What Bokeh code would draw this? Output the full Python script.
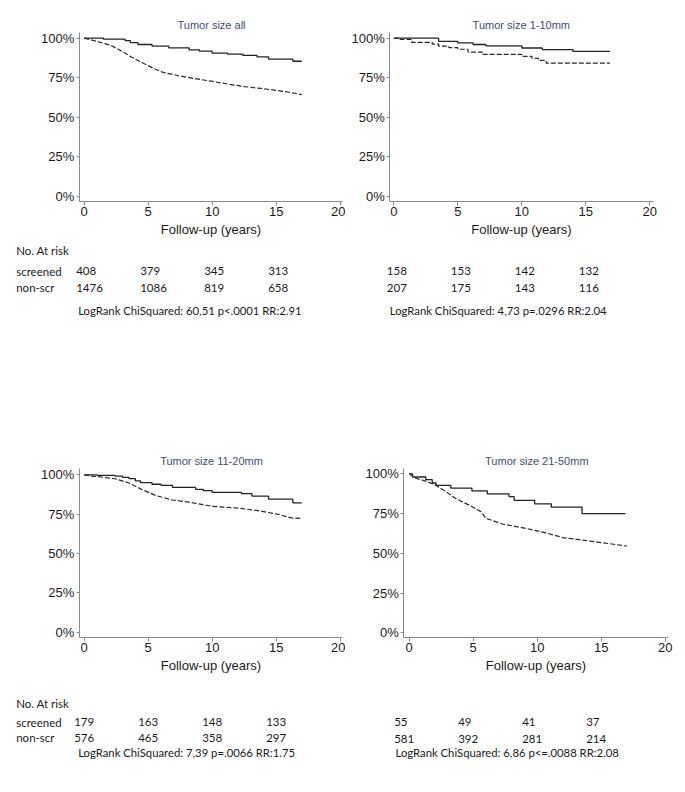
from bokeh.plotting import figure
from bokeh.layouts import column, row
from bokeh.models import Range1d, FixedTicker, PrintfTickFormatter, LinearAxis, Label
from bokeh.embed import file_html
from bokeh.resources import INLINE

# ---------------- data ----------------
titles = ["Tumor size all", "Tumor size 1-10mm", "Tumor size 11-20mm", "Tumor size 21-50mm"]
x_ticks = [0, 5, 10, 15, 20]
y_ticks = [0, 25, 50, 75, 100]
risk_years = [0, 5, 10, 15]
row_names = ["screened", "non-scr"]
risk_header = "No. At risk"
x_label = "Follow-up (years)"

# Tumor size all
all_scr_t = [0, 1.5, 3.2, 3.6, 4.2, 5.3, 6.6, 8.2, 9.0, 10.0, 11.2, 12.4, 13.5, 14.4, 16.3, 17.0]
all_scr_s = [100, 99.4, 98.5, 97.2, 96.0, 95.0, 93.9, 92.6, 91.8, 90.5, 89.9, 89.1, 88.2, 86.8, 85.4, 85.4]
all_non_t = [0, 1.0, 2.1, 3.0, 3.7, 4.7, 5.4, 6.1, 7.3, 8.5, 9.9, 11.2, 12.5, 13.8, 15.1, 16.0, 17.0]
all_non_s = [100, 98.0, 95.4, 91.5, 88.0, 83.8, 81.0, 78.5, 76.4, 74.6, 72.8, 71.0, 69.4, 68.2, 66.9, 65.8, 64.3]
all_risk_scr = [408, 379, 345, 313]
all_risk_non = [1476, 1086, 819, 658]
all_stats = "LogRank ChiSquared: 60,51  p<.0001  RR:2.91"

# Tumor size 1-10mm
s1_scr_t = [0, 3.5, 5.0, 6.2, 7.2, 10.0, 11.6, 14.0, 16.9]
s1_scr_s = [100, 98.0, 97.0, 96.0, 95.2, 93.8, 92.8, 91.6, 91.6]
s1_non_t = [0, 0.5, 1.4, 3.0, 3.5, 4.3, 5.0, 5.8, 6.9, 10.0, 10.8, 11.3, 11.9, 16.9]
s1_non_s = [100, 99.2, 97.4, 96.3, 95.0, 94.0, 93.0, 91.2, 89.8, 88.5, 87.2, 86.0, 84.2, 84.2]
s1_risk_scr = [158, 153, 142, 132]
s1_risk_non = [207, 175, 143, 116]
s1_stats = "LogRank ChiSquared: 4,73  p=.0296  RR:2.04"

# Tumor size 11-20mm
s2_scr_t = [0, 1.0, 2.4, 3.0, 3.5, 4.0, 4.4, 5.3, 6.0, 6.9, 8.7, 9.3, 10.0, 12.3, 13.1, 14.4, 16.3, 17.0]
s2_scr_s = [100, 99.6, 99.2, 98.4, 97.6, 96.2, 95.0, 94.0, 93.3, 92.0, 90.8, 90.0, 88.8, 88.0, 86.5, 84.5, 82.2, 82.2]
s2_non_t = [0, 0.5, 1.1, 2.4, 3.5, 4.5, 5.6, 6.9, 8.2, 9.3, 10.0, 12.1, 13.6, 15.2, 16.2, 17.0]
s2_non_s = [100, 99.2, 98.8, 97.5, 94.8, 90.7, 86.8, 84.0, 82.6, 81.0, 80.0, 78.8, 77.2, 74.8, 72.6, 72.2]
s2_risk_scr = [179, 163, 148, 133]
s2_risk_non = [576, 465, 358, 297]
s2_stats = "LogRank ChiSquared: 7,39  p=.0066  RR:1.75"

# Tumor size 21-50mm
s3_scr_t = [0, 0.26, 1.3, 1.8, 2.1, 3.25, 4.9, 6.1, 7.8, 8.2, 9.8, 11.1, 13.5, 16.9]
s3_scr_s = [100, 98.0, 96.3, 94.2, 92.7, 91.0, 89.2, 87.4, 85.6, 83.3, 81.1, 79.0, 75.0, 75.0]
s3_non_t = [0, 0.5, 1.3, 2.1, 2.9, 3.6, 4.7, 5.6, 6.0, 7.3, 9.1, 10.7, 12.0, 14.1, 15.6, 17.0]
s3_non_s = [100, 97.2, 95.4, 92.7, 88.6, 84.6, 80.2, 76.2, 72.0, 68.4, 65.7, 62.8, 59.9, 57.7, 56.1, 54.5]
s3_risk_scr = [55, 49, 41, 37]
s3_risk_non = [581, 392, 281, 214]
s3_stats = "LogRank ChiSquared: 6,86  p<=.0088  RR:2.08"

# ---------------- layout / style ----------------
AX_FONT = "Liberation Sans"
TAB_FONT = "Lato"
INK = "#1a1a1a"
TITLE_COLOR = "#3f4d70"
AXIS_COLOR = "#8a8a8a"

# All positions in pixels inside each quadrant figure (origin top-left).
# x0/y0: pixel of year 0 / 0 %, ppy/ppp: pixels per year / per percent,
# ax_*: extent of the axis lines, title: title centre, rows: table row centres.
layouts = [
    dict(w=345, h=396, x0=83.7, ppy=12.8, y0=195.7, ppp=1.58,
         ax_l=78.7, ax_r=342.3, ax_t=32.0, ax_b=201.0, title=(211.0, 24.3),
         rows=(250.0, 270.7, 287.0, 310.0), lab_x=15.7, num_dx=-8, stat_x=77.7, header=True),
    dict(w=332, h=396, x0=48.3, ppy=12.8, y0=195.7, ppp=1.58,
         ax_l=44.3, ax_r=308.0, ax_t=32.0, ax_b=201.0, title=(175.8, 24.3),
         rows=(250.0, 270.0, 287.0, 310.0), lab_x=15.7, num_dx=-7, stat_x=44.3, header=False),
    dict(w=345, h=388, x0=83.7, ppy=12.8, y0=235.7, ppp=1.574,
         ax_l=78.7, ax_r=342.3, ax_t=72.3, ax_b=241.0, title=(211.0, 64.0),
         rows=(306.7, 325.7, 341.3, 355.7), lab_x=15.7, num_dx=-10, stat_x=77.7, header=True),
    dict(w=332, h=388, x0=63.7, ppy=12.8, y0=236.3, ppp=1.59,
         ax_l=58.3, ax_r=323.3, ax_t=72.3, ax_b=241.0, title=(191.3, 64.0),
         rows=(306.7, 325.7, 342.3, 355.7), lab_x=15.7, num_dx=-15, stat_x=50.0, header=False),
]

panels = [
    (all_scr_t, all_scr_s, all_non_t, all_non_s, True, all_risk_scr, all_risk_non, all_stats),
    (s1_scr_t, s1_scr_s, s1_non_t, s1_non_s, False, s1_risk_scr, s1_risk_non, s1_stats),
    (s2_scr_t, s2_scr_s, s2_non_t, s2_non_s, True, s2_risk_scr, s2_risk_non, s2_stats),
    (s3_scr_t, s3_scr_s, s3_non_t, s3_non_s, True, s3_risk_scr, s3_risk_non, s3_stats),
]


def screen_label(cfg, text, x_px, y_px, font, size, color=INK, align="left"):
    return Label(x=x_px, y=cfg["h"] - y_px, x_units="screen", y_units="screen",
                 text=text, text_font=font, text_font_size=size, text_color=color,
                 text_align=align, text_baseline="middle")


def make_quadrant(cfg, title, data):
    scr_t, scr_s, non_t, non_s, smooth_non, risk_scr, risk_non, stats = data
    w, h, x0, ppy, y0, ppp = cfg["w"], cfg["h"], cfg["x0"], cfg["ppy"], cfg["y0"], cfg["ppp"]
    p = figure(width=w, height=h,
               x_range=Range1d(-x0 / ppy, (w - x0) / ppy),
               y_range=Range1d(-(h - y0) / ppp, y0 / ppp),
               output_backend="svg", toolbar_location=None, title=None,
               x_axis_type=None, y_axis_type=None, min_border=0)
    p.outline_line_color = None

    # axes placed inside the (full-size) frame
    yr_bottom = (y0 - cfg["ax_b"]) / ppp
    yr_top = (y0 - cfg["ax_t"]) / ppp
    xr_left = (cfg["ax_l"] - x0) / ppy
    xr_right = (cfg["ax_r"] - x0) / ppy

    xaxis = LinearAxis(ticker=FixedTicker(ticks=x_ticks), fixed_location=yr_bottom,
                       bounds=(xr_left, xr_right), axis_label=x_label)
    yaxis = LinearAxis(ticker=FixedTicker(ticks=y_ticks), fixed_location=xr_left,
                       bounds=(yr_bottom, yr_top), formatter=PrintfTickFormatter(format="%d%%"))
    for ax in (xaxis, yaxis):
        ax.axis_line_color = AXIS_COLOR
        ax.major_tick_line_color = AXIS_COLOR
        ax.minor_tick_line_color = None
        ax.major_tick_in = 0
        ax.major_tick_out = 4
        ax.major_label_text_font = AX_FONT
        ax.major_label_text_font_size = "13px"
        ax.major_label_text_color = INK
    xaxis.major_label_standoff = 1
    xaxis.axis_label_text_font = AX_FONT
    xaxis.axis_label_text_font_size = "13px"
    xaxis.axis_label_text_font_style = "normal"
    xaxis.axis_label_text_color = INK
    xaxis.axis_label_standoff = 3
    yaxis.major_tick_out = 3
    yaxis.major_label_standoff = 2
    p.add_layout(xaxis, "below")
    p.add_layout(yaxis, "left")

    # title
    tx, ty = cfg["title"]
    p.add_layout(screen_label(cfg, title, tx, ty, AX_FONT, "11px", TITLE_COLOR, "center"))

    # survival curves
    p.step(scr_t, scr_s, mode="after", line_color="#222222", line_width=1.3)
    if smooth_non:
        p.line(non_t, non_s, line_color="#2a2a2a", line_width=1.2, line_dash="5 2")
    else:
        p.step(non_t, non_s, mode="after", line_color="#2a2a2a", line_width=1.2, line_dash="5 2")

    # number-at-risk table
    r_head, r_scr, r_non, r_stat = cfg["rows"]
    if cfg["header"]:
        p.add_layout(screen_label(cfg, risk_header, cfg["lab_x"], r_head, TAB_FONT, "11.5px"))
        p.add_layout(screen_label(cfg, row_names[0], cfg["lab_x"], r_scr, TAB_FONT, "11.5px"))
        p.add_layout(screen_label(cfg, row_names[1], cfg["lab_x"], r_non, TAB_FONT, "11.5px"))
    for yr, a, b in zip(risk_years, risk_scr, risk_non):
        for val, ry in ((a, r_scr), (b, r_non)):
            p.add_layout(Label(x=yr, y=h - ry, x_units="data", y_units="screen",
                               x_offset=cfg["num_dx"], text=str(val), text_font=TAB_FONT,
                               text_font_size="11.5px", text_color=INK,
                               text_align="left", text_baseline="middle"))
    p.add_layout(screen_label(cfg, stats, cfg["stat_x"], r_stat, TAB_FONT, "11.3px"))
    return p


quads = [make_quadrant(cfg, t, d) for cfg, t, d in zip(layouts, titles, panels)]
layout = column(row(quads[0], quads[1], spacing=0), row(quads[2], quads[3], spacing=0), spacing=0)

open("out.html", "w").write(file_html(layout, INLINE))
